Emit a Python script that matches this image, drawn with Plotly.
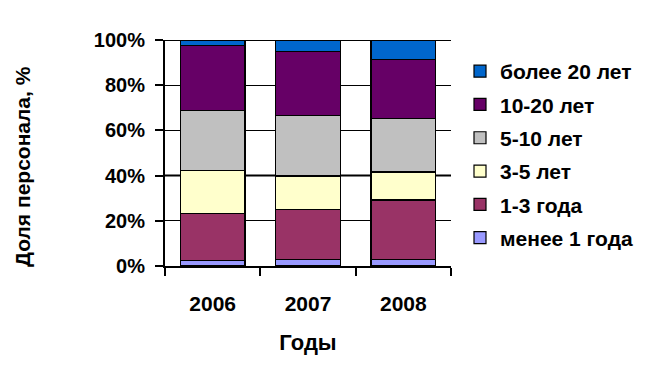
import plotly.graph_objects as go

years = ["2006", "2007", "2008"]
series_names = ["менее 1 года", "1-3 года", "3-5 лет", "5-10 лет", "10-20 лет", "более 20 лет"]
less_1 = [2.4, 2.9, 2.9]
y1_3 = [20.9, 22.2, 26.3]
y3_5 = [19.0, 14.7, 12.4]
y5_10 = [26.6, 26.7, 23.7]
y10_20 = [28.7, 28.3, 26.0]
over_20 = [2.4, 5.2, 8.7]
series_values = [less_1, y1_3, y3_5, y5_10, y10_20, over_20]
colors = ["#9999FF", "#993366", "#FFFFCC", "#C0C0C0", "#660066", "#0066CC"]
y_ticks = [0, 20, 40, 60, 80, 100]
y_tick_labels = ["0%", "20%", "40%", "60%", "80%", "100%"]

FONT = "Liberation Sans, Arial, sans-serif"

fig = go.Figure()
for i, (name, vals, col) in enumerate(zip(series_names, series_values, colors)):
    fig.add_trace(go.Bar(
        x=years, y=vals, name=name, legendgroup=name, legendrank=100 - i,
        marker=dict(color=col, line=dict(color="black", width=1.2)),
    ))

# page body has an 8px margin, so the figure is drawn 8px in from the window edge
W, H = 651, 373
L, T = 157, 32
pw, ph = 286, 226
R, B = W - L - pw, H - T - ph

fig.update_layout(
    width=W, height=H,
    margin=dict(l=L, r=R, t=T, b=B, pad=0),
    barmode="stack", bargap=0.32,
    plot_bgcolor="white", paper_bgcolor="white",
    font=dict(family=FONT, size=20, color="black"),
    showlegend=True,
    legend=dict(
        x=(452 - L) / pw, xanchor="left",
        y=1 - (43 - T) / ph, yanchor="top",
        traceorder="grouped", tracegroupgap=3,
        font=dict(family=FONT, size=21, color="black", weight="bold"),
        bgcolor="rgba(0,0,0,0)",
    ),
    xaxis=dict(
        showline=True, linecolor="black", linewidth=2,
        ticks="outside", tickson="boundaries", ticklen=8, tickwidth=2, tickcolor="black",
        ticklabelstandoff=18,
        tickfont=dict(family=FONT, size=21, color="black", weight="bold"),
        title=dict(text="<b>Годы</b>", font=dict(family=FONT, size=22, color="black"), standoff=20),
        showgrid=False,
    ),
    yaxis=dict(
        range=[0, 100], tickvals=y_ticks, ticktext=y_tick_labels,
        showline=True, linecolor="black", linewidth=2,
        ticks="outside", ticklen=8, tickwidth=2, tickcolor="black",
        ticklabelstandoff=6,
        tickfont=dict(family=FONT, size=20, color="black", weight="bold"),
        showgrid=True, gridcolor="black", gridwidth=1,
        zeroline=False,
    ),
)

# top border and heavier 40% gridline
fig.add_shape(type="line", xref="paper", yref="y", x0=0, x1=1, y0=100, y1=100,
              line=dict(color="black", width=2), layer="below")
fig.add_shape(type="line", xref="paper", yref="y", x0=0, x1=1, y0=40, y1=40,
              line=dict(color="black", width=2), layer="below")

fig.add_annotation(
    text="<b>Доля персонала, %</b>", textangle=-90,
    xref="paper", yref="paper",
    x=(14 - L) / pw, y=(T + ph - 159) / ph,
    xanchor="center", yanchor="middle", showarrow=False,
    font=dict(family=FONT, size=21, color="black"),
)

fig.write_html("out.html")
